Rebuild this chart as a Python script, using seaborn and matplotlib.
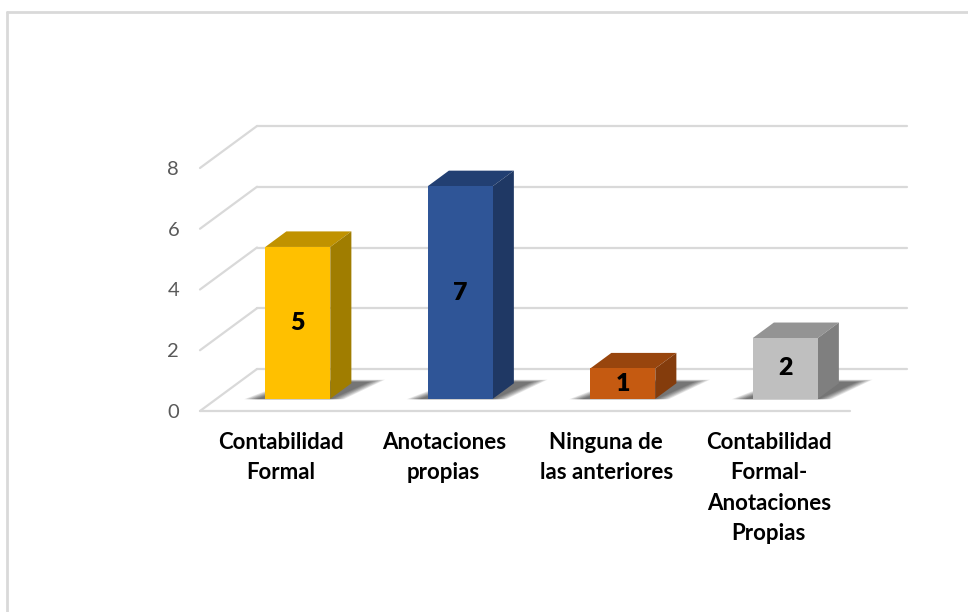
import matplotlib
matplotlib.use("Agg")
import matplotlib.pyplot as plt
from matplotlib.patches import Polygon
from matplotlib.lines import Line2D
import seaborn as sns

# Data
categories = ["Contabilidad\nFormal", "Anotaciones\npropias",
              "Ninguna de\nlas anteriores", "Contabilidad\nFormal-\nAnotaciones\nPropias"]
values = [5, 7, 1, 2]
y_ticks = [0, 2, 4, 6, 8]

front_colors = ["#FFC000", "#2F5597", "#C55A11", "#BFBFBF"]
top_colors = ["#C09200", "#223F72", "#98450D", "#949494"]
side_colors = ["#A07D00", "#1F3864", "#843C0C", "#7F7F7F"]

sns.set_theme(style="white")
plt.rcParams["font.family"] = ["Lato", "DejaVu Sans"]

W, H = 968, 612
fig = plt.figure(figsize=(W / 100, H / 100), dpi=100)
fig.patch.set_facecolor("white")

# front plane of the plot: x in category units, y in value units
ax = fig.add_axes([200 / W, (H - 411) / H, 650 / W, 243 / H])
ax.set_xlim(-0.5, len(categories) - 0.5)
ax.set_ylim(0, 8)

# oblique depth vector (full depth of the floor) in data units
DX = 57 / 162.5
DY = 42 / 30.375
F0, F1 = 0.29, 0.66          # bar front/back depth fractions
BAR_W = 0.4


def proj(x, v, d):
    return (x + d * DX, v + d * DY)


grid_c = "#D9D9D9"
x0, x1 = -0.5, len(categories) - 0.5
for v in y_ticks:
    # back wall gridline
    ax.add_line(Line2D(*zip(proj(x0, v, 1), proj(x1, v, 1)), color=grid_c,
                       lw=1.6, zorder=0, clip_on=False))
    # side wall line
    ax.add_line(Line2D(*zip(proj(x0, v, 0), proj(x0, v, 1)), color=grid_c,
                       lw=1.6, zorder=0, clip_on=False))
# front edge of the floor
ax.add_line(Line2D([x0, x1], [0, 0], color=grid_c, lw=1.6, zorder=0, clip_on=False))

# front faces of the columns
sns.barplot(x=categories, y=values, hue=categories, palette=front_colors,
            width=BAR_W, legend=False, ax=ax, saturation=1, zorder=3,
            edgecolor="none")

bars = [p for p in ax.patches]
for i, (p, v) in enumerate(zip(bars, values)):
    xl = p.get_x()
    xr = xl + p.get_width()
    # soft shadow on the floor, darkest close to the column
    for k in range(8):
        grow = 0.011 * k
        shadow = Polygon([proj(xl - 0.05 - grow, 0, F0 - 0.01),
                          proj(xr + 0.01 + grow, 0, F0 - 0.01),
                          proj(xr + 0.10 + grow, 0, F1 + 0.03 + 0.008 * k),
                          proj(xl + 0.10 - grow, 0, F1 + 0.03 + 0.008 * k)],
                         closed=True, facecolor="black", alpha=0.09,
                         edgecolor="none", zorder=1, clip_on=False)
        ax.add_patch(shadow)

    p.set_x(xl + F0 * DX)
    p.set_y(F0 * DY)
    p.set_clip_on(False)
    top = Polygon([proj(xl, v, F0), proj(xr, v, F0),
                   proj(xr, v, F1), proj(xl, v, F1)],
                  closed=True, facecolor=top_colors[i], edgecolor="none",
                  zorder=2, clip_on=False)
    side = Polygon([proj(xr, 0, F0), proj(xr, v, F0),
                    proj(xr, v, F1), proj(xr, 0, F1)],
                   closed=True, facecolor=side_colors[i], edgecolor="none",
                   zorder=2, clip_on=False)
    ax.add_patch(top)
    ax.add_patch(side)

    cx, cy = proj((xl + xr) / 2, v / 2, F0)
    ax.text(cx, cy, str(v), ha="center", va="center", fontsize=18,
            fontweight="heavy", color="black", zorder=5)

ax.set_yticks(y_ticks)
ax.set_yticklabels([str(t) for t in y_ticks], fontsize=14.5, color="#595959")
ax.set_xticks(range(len(categories)))
ax.set_xticklabels(categories, fontsize=16, fontweight="bold", color="black",
                   linespacing=1.55)
ax.tick_params(axis="y", length=0, pad=15)
ax.tick_params(axis="x", length=0, pad=15)
ax.set_xlabel("")
ax.set_ylabel("")
for s in ax.spines.values():
    s.set_visible(False)
ax.patch.set_alpha(0)

# chart area border (top and left edges visible)
fig.add_artist(Line2D([7 / W, 1], [1 - 12 / H, 1 - 12 / H], color=grid_c,
                      lw=2, transform=fig.transFigure))
fig.add_artist(Line2D([7 / W, 7 / W], [0, 1 - 12 / H], color=grid_c,
                      lw=2, transform=fig.transFigure))

fig.savefig("out.png", dpi=100, facecolor="white")
